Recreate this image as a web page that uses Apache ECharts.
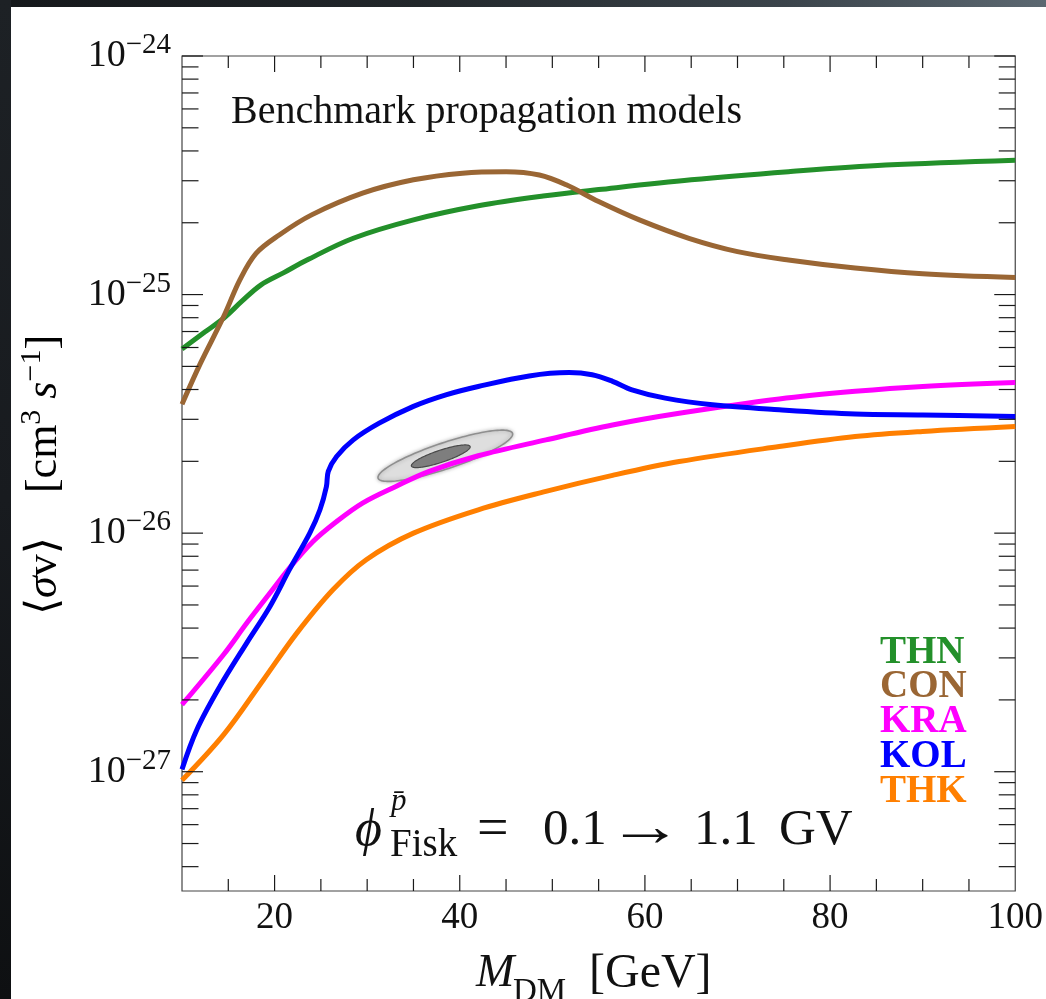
<!DOCTYPE html>
<html>
<head>
<meta charset="utf-8">
<script src="https://cdn.jsdelivr.net/npm/echarts@6/dist/echarts.min.js"></script>
<style>
  html, body { margin: 0; padding: 0; width: 1046px; height: 999px; overflow: hidden; background: #16191c; }
  #topband { position: absolute; left: 0; top: 0; width: 1046px; height: 7px;
    background: linear-gradient(to right, #15181b 0%, #22272b 40%, #3b444b 75%, #5c6871 100%); }
  #leftband { position: absolute; left: 0; top: 0; width: 11px; height: 999px;
    background: linear-gradient(to bottom, #1d2125 0%, #181b1f 50%, #0e1012 100%); }
  #panel { position: absolute; left: 11px; top: 7px; width: 1035px; height: 992px; background: #fff; }
  #chart { position: absolute; left: 0; top: 0; width: 1046px; height: 999px; }
</style>
</head>
<body>
<div id="topband"></div>
<div id="leftband"></div>
<div id="panel"></div>
<div id="chart"></div>
<script>
// Annihilation cross-section <σv> [cm^3 s^-1] versus dark-matter mass [GeV]
// for the five benchmark cosmic-ray propagation models.

const massRange  = [10, 100];
const sigmaRange = [Math.pow(10, -27.5), 1e-24];
const xTickLabels = [20, 40, 60, 80, 100];
const yDecades    = [-27, -26, -25, -24];

// [M_DM (GeV), <σv> (cm^3/s)]
const THN = [
  [10, 5.92e-26], [12.5, 6.98e-26], [14.5, 7.96e-26], [16.5, 9.4e-26], [18.5, 1.096e-25],
  [21, 1.236e-25], [23.5, 1.396e-25], [28.5, 1.722e-25], [35, 2.056e-25], [42, 2.355e-25],
  [49, 2.588e-25], [55, 2.754e-25], [65, 3.027e-25], [75.5, 3.273e-25], [86, 3.49e-25],
  [100, 3.66e-25]
];
const CON = [
  [10, 3.47e-26], [12, 5.16e-26], [14.5, 8.09e-26], [16.25, 1.153e-25], [18, 1.489e-25],
  [20.5, 1.778e-25], [24, 2.158e-25], [29.5, 2.661e-25], [35, 3.027e-25], [40.3, 3.228e-25],
  [45, 3.273e-25], [48.6, 3.17e-25], [51.5, 2.884e-25], [55, 2.455e-25], [59.4, 2.056e-25],
  [64.75, 1.722e-25], [70, 1.514e-25], [75.5, 1.396e-25], [82.7, 1.291e-25], [90, 1.222e-25],
  [100, 1.178e-25]
];
const KRA = [
  [10, 1.91e-27], [14.5, 3.10e-27], [17, 4.20e-27], [19.5, 5.61e-27], [21.6, 7.14e-27],
  [24.15, 9.23e-27], [26.7, 1.119e-26], [29.5, 1.337e-26], [33.1, 1.57e-26], [36.7, 1.815e-26],
  [42, 2.11e-26], [49.3, 2.46e-26], [56.5, 2.84e-26], [63.7, 3.18e-26], [74.5, 3.65e-26],
  [82.7, 3.93e-26], [90, 4.12e-26], [100, 4.28e-26]
];
const KOL = [
  [10, 1.023e-27], [11.6, 1.5e-27], [14.1, 2.28e-27], [17, 3.47e-27], [19.5, 4.93e-27],
  [21.6, 7.03e-27], [23.8, 1.0e-26], [24.9, 1.253e-26], [25.6, 1.57e-26], [25.8, 1.815e-26],
  [26.7, 2.094e-26], [28.5, 2.46e-26], [31.3, 2.89e-26], [35, 3.40e-26], [38.5, 3.80e-26],
  [42, 4.12e-26], [47.5, 4.56e-26], [51.8, 4.71e-26], [54.3, 4.61e-26], [56.5, 4.33e-26],
  [58.6, 3.99e-26], [62.2, 3.68e-26], [67.3, 3.45e-26], [74.5, 3.29e-26], [82.7, 3.16e-26],
  [90, 3.13e-26], [100, 3.08e-26]
];
const THK = [
  [10, 9.2e-28], [14.5, 1.43e-27], [18.8, 2.43e-27], [22.4, 3.81e-27], [26.3, 5.79e-27],
  [29.9, 7.74e-27], [35, 1.0e-26], [42, 1.253e-26], [49.3, 1.496e-26], [56.5, 1.746e-26],
  [63.7, 1.995e-26], [74.5, 2.307e-26], [82.7, 2.54e-26], [90, 2.67e-26], [100, 2.80e-26]
];

// Best-fit region: centre [M, <σv>] and semi-axis vectors in (M, log10 <σv>)
const fitOuterCenter = [38.44, 2.11e-26];
const fitOuterAxes   = [[7.26, 0.094], [0.44, -0.052]];
const fitInnerCenter = [37.95, 2.10e-26];
const fitInnerAxes   = [[3.17, 0.041], [0.20, -0.024]];

const models = [
  { name: 'THN', data: THN, color: '#23902a' },
  { name: 'CON', data: CON, color: '#9a6634' },
  { name: 'KRA', data: KRA, color: '#ff00ff' },
  { name: 'KOL', data: KOL, color: '#0000ff' },
  { name: 'THK', data: THK, color: '#ff7f00' }
];

// cross-sections are handed to the log axis in units of 1e-30 cm^3/s
const UNIT = 1e-30;
const UNIT_EXP = -30;
const toAxis = v => v / UNIT;

const SERIF = '"Liberation Serif", "Times New Roman", "DejaVu Serif", serif';

function yLabel(v) {
  const e = Math.log10(v) + UNIT_EXP;
  const r = Math.round(e);
  if (Math.abs(e - r) > 1e-6 || yDecades.indexOf(r) < 0) return '';
  return '{b|10}{s|' + (r < 0 ? '\u2212' : '') + Math.abs(r) + '}';
}

function renderTicks(params, api) {
  const lo = api.coord([massRange[0], toAxis(sigmaRange[0])]);
  const hi = api.coord([massRange[1], toAxis(sigmaRange[1])]);
  const x0 = lo[0], x1 = hi[0], yB = lo[1], yT = hi[1];
  const st = { stroke: '#1a1a1a', lineWidth: 1.2 };
  const kids = [];
  for (let m = massRange[0] + 5; m < massRange[1]; m += 5) {
    const px = api.coord([m, toAxis(sigmaRange[0])])[0];
    const len = xTickLabels.indexOf(m) >= 0 ? 16 : 12;
    kids.push({ type: 'line', shape: { x1: px, y1: yB, x2: px, y2: yB - len }, style: st });
    kids.push({ type: 'line', shape: { x1: px, y1: yT, x2: px, y2: yT + len }, style: st });
  }
  for (let d = -28; d <= -24; d++) {
    for (let k = 1; k <= 9; k++) {
      const v = k * Math.pow(10, d);
      if (v < sigmaRange[0] * 0.999 || v > sigmaRange[1] * 1.001) continue;
      const py = api.coord([massRange[0], toAxis(v)])[1];
      const len = k === 1 ? 21 : 16.5;
      kids.push({ type: 'line', shape: { x1: x0, y1: py, x2: x0 + len, y2: py }, style: st });
      kids.push({ type: 'line', shape: { x1: x1, y1: py, x2: x1 - len, y2: py }, style: st });
    }
  }
  return { type: 'group', children: kids };
}

function ellipseRenderer(center, axes, style) {
  return function (params, api) {
    const pts = [];
    const l0 = Math.log10(center[1]);
    for (let i = 0; i < 120; i++) {
      const t = i / 120 * Math.PI * 2;
      const m = center[0] + Math.cos(t) * axes[0][0] + Math.sin(t) * axes[1][0];
      const l = l0 + Math.cos(t) * axes[0][1] + Math.sin(t) * axes[1][1];
      pts.push(api.coord([m, toAxis(Math.pow(10, l))]));
    }
    return { type: 'polygon', shape: { points: pts }, style: style };
  };
}

const chart = echarts.init(document.getElementById('chart'), null, { renderer: 'canvas' });

const lineSeries = models.map(md => ({
  type: 'line',
  name: md.name,
  data: md.data.map(p => [p[0], toAxis(p[1])]),
  showSymbol: false,
  smooth: 0.35,
  lineStyle: { width: 5, color: md.color },
  itemStyle: { color: md.color },
  emphasis: { disabled: true },
  z: 3
}));

function txt(x, y, text, font) {
  return { type: 'text', x: x, y: y, z: 10,
    style: { text: text, font: font, fill: '#111', verticalAlign: 'middle' } };
}

chart.setOption({
  animation: false,
  backgroundColor: 'transparent',
  grid: { left: 182, top: 56, right: 29, bottom: 108, show: true, borderColor: '#444', borderWidth: 1.2 },
  xAxis: {
    type: 'value', min: massRange[0], max: massRange[1], interval: 10,
    axisLine: { show: false }, axisTick: { show: false }, splitLine: { show: false },
    axisLabel: {
      margin: 9, color: '#111', fontFamily: SERIF, fontSize: 37,
      formatter: v => (xTickLabels.indexOf(v) >= 0 ? String(v) : '')
    }
  },
  yAxis: {
    type: 'log', logBase: 10, min: toAxis(sigmaRange[0]), max: toAxis(sigmaRange[1]),
    axisLine: { show: false }, axisTick: { show: false }, splitLine: { show: false },
    axisLabel: {
      margin: 11, color: '#111', formatter: yLabel,
      rich: {
        b: { fontFamily: SERIF, fontSize: 38, lineHeight: 50, color: '#111' },
        s: { fontFamily: SERIF, fontSize: 29, lineHeight: 29, verticalAlign: 'top', color: '#111' }
      }
    }
  },
  legend: {
    orient: 'vertical', left: 870, top: 628, itemWidth: 0, itemHeight: 0, itemGap: -4.2,
    icon: 'rect', selectedMode: false, padding: 5,
    textStyle: { fontFamily: SERIF, fontWeight: 'bold', fontSize: 39, lineHeight: 34.5 },
    data: models.map(md => ({ name: md.name, textStyle: { color: md.color } }))
  },
  graphic: [
    txt(231, 112, 'Benchmark propagation models', '40px ' + SERIF),
    // y-axis title
    { type: 'text', x: 44, y: 475, rotation: Math.PI / 2, z: 10,
      style: {
        text: '{r|\u27E8}{i|\u03C3}{r|v\u27E9    [cm}{s|3}{r| }{i|s}{s|\u22121}{r|]}',
        align: 'center', verticalAlign: 'middle',
        rich: {
          r: { fontFamily: SERIF, fontSize: 44, lineHeight: 54, color: '#111' },
          i: { fontFamily: SERIF, fontStyle: 'italic', fontSize: 44, lineHeight: 54, color: '#111' },
          s: { fontFamily: SERIF, fontSize: 30, lineHeight: 30, verticalAlign: 'top', color: '#111' }
        }
      } },
    // x-axis title
    txt(476, 974, 'M', 'italic 46px ' + SERIF),
    txt(513, 992, 'DM', '33px ' + SERIF),
    txt(589, 974, '[GeV]', '48px ' + SERIF),
    // solar-modulation annotation
    txt(355, 831, '\u03D5', 'italic 52px ' + SERIF),
    txt(391, 802, 'p\u0304', 'italic 31px ' + SERIF),
    txt(390, 846, 'Fisk', '39px ' + SERIF),
    txt(477, 831, '=', '56px ' + SERIF),
    txt(543, 831, '0.1', '51px ' + SERIF),
    { type: 'text', x: 645, y: 830, z: 10, scaleX: 1.45, scaleY: 1.1,
      style: { text: '\u2192', font: '52px ' + SERIF, fill: '#111',
               align: 'center', verticalAlign: 'middle' } },
    txt(694, 831, '1.1', '51px ' + SERIF),
    txt(779, 831, 'GV', '51px ' + SERIF)
  ],
  series: [
    { type: 'custom', name: 'fit-outer', data: [[fitOuterCenter[0], toAxis(fitOuterCenter[1])]], z: 1, silent: true,
      renderItem: ellipseRenderer(fitOuterCenter, fitOuterAxes,
        { fill: '#dedede', stroke: '#8f8f8f', lineWidth: 1.6, shadowBlur: 4, shadowColor: 'rgba(0,0,0,0.25)' }) },
    { type: 'custom', name: 'fit-inner', data: [[fitInnerCenter[0], toAxis(fitInnerCenter[1])]], z: 2, silent: true,
      renderItem: ellipseRenderer(fitInnerCenter, fitInnerAxes,
        { fill: '#7e7e7e', stroke: '#4a4a4a', lineWidth: 1.2 }) }
  ].concat(lineSeries).concat([
    { type: 'custom', name: 'ticks', data: [[massRange[0], toAxis(sigmaRange[1])]], z: 5, silent: true,
      clip: false, renderItem: renderTicks }
  ])
});
</script>
</body>
</html>
